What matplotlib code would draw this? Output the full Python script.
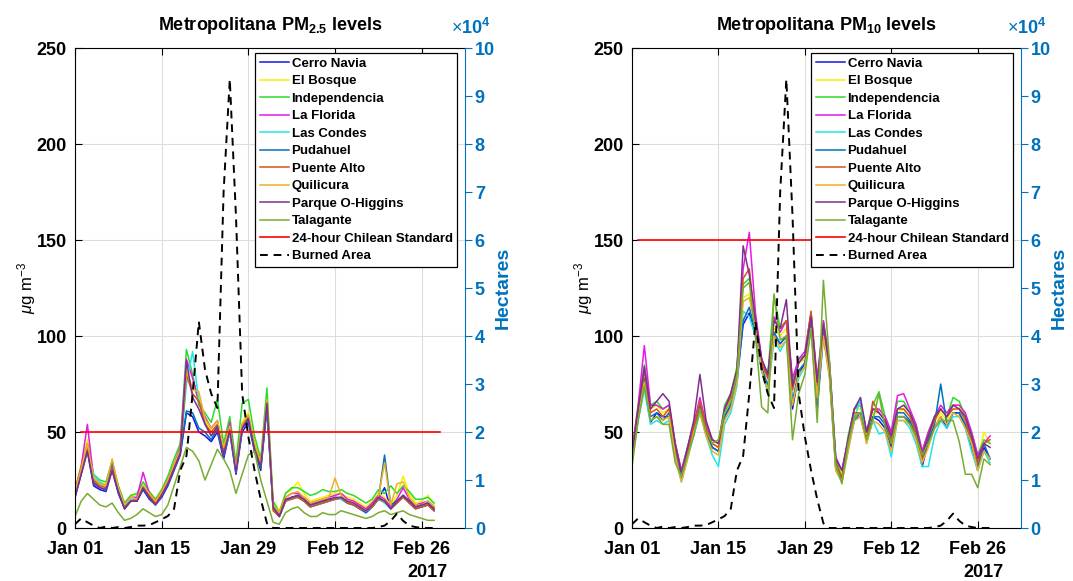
import matplotlib
matplotlib.use('Agg')
import matplotlib.pyplot as plt
import matplotlib.dates as mdates
from matplotlib.ticker import FuncFormatter, MultipleLocator
from datetime import date, timedelta

plt.rcParams['font.family'] = ['Liberation Sans', 'DejaVu Sans']
plt.rcParams['mathtext.fontset'] = 'custom'
plt.rcParams['mathtext.rm'] = 'Liberation Sans'
plt.rcParams['mathtext.it'] = 'Liberation Sans:italic'
plt.rcParams['mathtext.bf'] = 'Liberation Sans:bold'

# daily values, 1 Jan 2017 .. 28 Feb 2017
start = date(2017, 1, 1)
days = [start + timedelta(days=i) for i in range(59)]

stations = ['Cerro Navia', 'El Bosque', 'Independencia', 'La Florida', 'Las Condes',
            'Pudahuel', 'Puente Alto', 'Quilicura', 'Parque O-Higgins', 'Talagante']
colors = ['#1515E8', '#F2F200', '#2BDB2B', '#E619E6', '#22E6E6',
          '#0072BD', '#D95319', '#EDB120', '#7E2F8E', '#77AC30']

# PM2.5 (ug/m3)
pm25_cerro_navia = [16,28,40,22,20,19,30,18,10,14,14,20,15,12,16,22,30,38,60,58,50,48,45,50,36,50,28,50,55,40,30,62,10,6,14,16,16,14,11,12,13,14,15,15,13,12,10,8,11,15,21,10,13,17,13,10,11,12,9]
pm25_el_bosque = [20,33,46,27,24,23,34,22,13,17,17,24,19,15,20,26,34,42,78,74,68,56,50,54,42,54,32,55,60,45,34,68,14,9,18,20,24,18,14,15,16,17,18,18,16,15,13,11,14,18,16,12,17,27,18,13,14,17,12]
pm25_independencia = [20,32,44,28,25,24,35,22,13,17,18,24,19,15,20,27,36,44,93,80,64,60,55,67,44,58,34,65,67,48,36,73,14,8,18,21,21,19,17,18,20,19,19,20,18,17,15,13,15,20,18,22,18,22,19,15,15,16,13]
pm25_la_florida = [19,32,54,26,23,22,33,21,12,16,16,29,18,14,19,25,33,42,88,78,66,58,52,56,40,55,30,54,58,42,32,65,11,7,16,18,18,16,13,14,15,16,17,18,15,14,12,10,13,17,15,11,15,21,15,12,13,14,11]
pm25_las_condes = [17,30,40,28,24,22,30,21,12,15,15,21,16,12,17,23,31,40,75,92,66,55,48,52,38,50,29,52,57,42,32,64,10,6,14,16,16,14,11,12,13,14,15,15,13,12,10,8,11,15,13,10,13,16,13,11,12,14,11]
pm25_pudahuel = [17,29,41,24,21,20,35,19,11,14,14,21,16,13,17,23,31,39,61,60,52,50,46,52,38,52,29,52,56,40,31,64,11,6,14,16,17,14,12,13,14,15,15,16,13,12,10,8,11,15,38,12,14,17,14,11,12,13,10]
pm25_puente_alto = [18,30,43,25,22,21,31,20,10,14,15,22,17,13,18,24,31,39,80,70,66,54,50,54,40,52,31,53,58,43,33,66,9,6,14,15,16,14,11,12,13,14,15,16,13,12,10,9,11,15,14,10,13,16,13,10,11,12,9]
pm25_quilicura = [19,31,44,26,23,22,36,21,12,16,15,22,18,14,19,25,33,41,82,72,71,57,52,56,42,53,31,54,59,44,34,67,12,8,16,18,19,16,13,14,15,16,26,17,14,13,11,9,12,16,34,12,23,24,16,12,12,14,11]
pm25_parque_ohiggins = [16,28,40,23,21,20,30,19,10,14,14,21,16,12,17,23,31,39,87,68,62,54,48,53,38,51,29,52,57,41,32,65,11,6,15,16,17,15,12,13,14,15,16,16,14,13,11,9,12,16,14,10,14,17,14,11,12,13,10]
pm25_talagante = [6,14,18,15,12,11,13,8,4,5,7,10,8,6,7,12,22,32,42,40,35,25,33,41,36,30,18,28,38,40,25,14,3,2,8,10,11,8,6,6,8,7,7,9,8,7,6,5,6,8,9,7,8,9,7,6,5,4,4]

# PM10 (ug/m3)
pm10_cerro_navia = [36,58,75,55,60,58,58,38,26,38,50,62,50,42,40,58,64,76,106,112,100,82,72,100,96,100,62,80,86,106,62,100,80,32,25,42,56,58,46,58,56,52,42,58,58,55,48,32,45,52,58,52,60,60,52,42,30,42,36]
pm10_el_bosque = [40,62,80,62,64,60,62,42,28,40,54,66,52,44,42,62,68,80,120,122,106,85,78,104,100,104,72,86,88,110,74,104,84,34,28,46,62,62,48,60,60,56,46,60,62,58,50,38,48,55,60,56,64,64,56,48,36,50,44]
pm10_independencia = [40,64,85,64,66,62,64,44,30,42,54,66,54,46,44,64,70,84,127,130,110,88,80,121,104,108,75,88,90,112,76,108,86,36,26,48,62,64,50,64,71,58,50,66,66,60,54,40,50,58,62,58,68,66,58,50,38,46,44]
pm10_la_florida = [40,64,95,64,64,62,64,44,30,42,54,68,54,46,44,62,70,82,135,154,112,88,80,110,102,108,78,88,92,112,78,108,86,37,30,46,62,66,50,62,62,58,50,69,70,62,54,40,50,58,64,60,64,64,60,50,38,44,48]
pm10_las_condes = [34,56,72,54,56,54,56,36,24,36,48,60,48,38,32,54,60,74,113,110,100,82,70,98,92,98,66,78,84,104,66,100,78,30,24,40,56,68,44,56,49,50,37,56,56,52,44,32,32,48,56,52,58,58,52,40,30,40,34]
pm10_pudahuel = [36,58,78,58,60,56,60,40,26,38,50,64,50,42,40,58,64,78,108,115,102,84,74,102,96,100,66,82,86,106,66,102,80,32,26,44,56,60,46,58,58,54,44,60,60,56,48,34,46,54,75,54,60,60,54,44,32,44,36]
pm10_puente_alto = [38,62,82,60,62,58,62,42,28,40,52,66,52,44,42,62,68,82,130,135,106,86,78,108,104,108,72,86,90,113,74,106,82,34,26,44,60,60,46,66,60,56,46,62,62,58,50,36,48,56,62,58,62,62,56,46,34,44,46]
pm10_quilicura = [36,58,76,56,58,56,58,38,24,36,50,60,48,40,38,56,62,76,118,120,104,82,72,100,94,98,64,80,84,104,68,100,78,30,24,40,56,58,44,56,54,50,40,56,56,54,46,34,42,52,58,54,60,58,52,44,30,40,36]
pm10_parque_ohiggins = [38,62,84,62,66,70,66,44,28,42,56,80,56,46,44,62,70,82,147,132,108,88,80,108,104,119,74,86,90,110,76,106,84,36,30,46,62,68,50,62,60,56,48,62,64,60,52,38,48,58,62,58,64,62,58,48,36,44,42]
pm10_talagante = [32,56,74,56,58,54,54,34,27,38,48,62,50,44,46,60,66,80,125,128,100,63,60,122,98,100,46,70,80,104,55,129,86,33,23,44,58,60,46,56,70,52,44,58,58,54,48,38,44,52,56,56,56,45,28,28,21,36,33]

# burned area (hectares)
burned_area = [800,2000,1200,500,0,300,0,200,0,200,500,500,600,1200,1800,2500,4000,12000,15000,28000,
               43000,33000,28000,25000,70000,93500,65000,28000,19000,12000,6000,1000,0,0,0,0,0,0,0,0,
               0,0,0,0,0,0,0,0,0,200,500,1500,3000,1500,500,200,0,0,0]

standard_pm25 = 50
standard_pm10 = 150
standard_span = [start + timedelta(days=1), start + timedelta(days=59)]

pm25_all = [pm25_cerro_navia, pm25_el_bosque, pm25_independencia, pm25_la_florida, pm25_las_condes,
            pm25_pudahuel, pm25_puente_alto, pm25_quilicura, pm25_parque_ohiggins, pm25_talagante]
pm10_all = [pm10_cerro_navia, pm10_el_bosque, pm10_independencia, pm10_la_florida, pm10_las_condes,
            pm10_pudahuel, pm10_puente_alto, pm10_quilicura, pm10_parque_ohiggins, pm10_talagante]

blue = '#0072BD'
fig = plt.figure(figsize=(10.73, 5.81), dpi=100)


def panel(rect, series, std, title):
    ax = fig.add_axes(rect)
    for vals, name, c in zip(series, stations, colors):
        ax.plot(days, vals, color=c, lw=1.1, label=name)
    ax.plot(standard_span, [std, std], color='#FF0000', lw=1.2, label='24-hour Chilean Standard')
    ax.set_ylim(0, 250)
    ax.set_xlim(start, start + timedelta(days=63))
    ax.yaxis.set_major_locator(MultipleLocator(50))
    ax.set_xticks([start + timedelta(days=14 * k) for k in range(5)])
    ax.xaxis.set_major_formatter(mdates.DateFormatter('%b %d'))
    ax.grid(True, color='#dcdcdc', lw=0.8)
    ax.set_axisbelow(True)
    ax.tick_params(direction='in', top=True, length=5, width=0.8, labelsize=13, pad=6)
    ax.tick_params(axis='x', pad=9)
    for lab in ax.get_xticklabels() + ax.get_yticklabels():
        lab.set_fontweight('bold')
    ax.spines['right'].set_visible(False)
    ax.set_ylabel(r'$\mu$g m$^{-3}$', fontsize=12, labelpad=-1)
    ax.set_title(title, fontsize=13, fontweight='bold', pad=13)
    ax.text(start + timedelta(days=57.5), -0.092, '2017', transform=ax.get_xaxis_transform(),
            ha='center', va='center', fontsize=13, fontweight='bold')

    ax2 = ax.twinx()
    ax2.plot(days, burned_area, color='black', lw=1.4, ls=(0, (4, 3)), label='Burned Area')
    ax2.set_ylim(0, 100000)
    ax2.set_xlim(start, start + timedelta(days=63))
    ax2.yaxis.set_major_locator(MultipleLocator(10000))
    ax2.yaxis.set_major_formatter(FuncFormatter(lambda v, p: '%g' % (v / 10000)))
    ax2.tick_params(axis='y', direction='out', length=5, width=0.8, colors=blue,
                    labelsize=13, pad=2)
    for lab in ax2.get_yticklabels():
        lab.set_fontweight('bold')
    for s in ['left', 'top', 'bottom']:
        ax2.spines[s].set_visible(False)
    ax2.spines['right'].set_color(blue)
    ax2.set_ylabel('Hectares', color=blue, fontsize=14, fontweight='bold', labelpad=0)
    ax2.text(0.965, 1.022, r'$\times\mathbf{10^{4}}$', transform=ax2.transAxes, ha='left',
             va='bottom', color=blue, fontsize=13, fontweight='bold')

    h1, l1 = ax.get_legend_handles_labels()
    h2, l2 = ax2.get_legend_handles_labels()
    leg = ax2.legend(h1 + h2, l1 + l2, loc='upper right', bbox_to_anchor=(0.98, 0.99),
                     borderaxespad=0, prop={'weight': 'bold', 'size': 9.5}, fancybox=False,
                     framealpha=1, edgecolor='black', labelspacing=0.4, handlelength=2.2,
                     handletextpad=0.2, borderpad=0.35)
    leg.get_frame().set_linewidth(0.9)
    return ax


panel([0.0699, 0.0912, 0.3635, 0.826], pm25_all, standard_pm25,
      r'Metropolitana PM$_{\mathbf{2.5}}$ levels')
panel([0.589, 0.0912, 0.3625, 0.826], pm10_all, standard_pm10,
      r'Metropolitana PM$_{\mathbf{10}}$ levels')

fig.savefig('out.png', dpi=100)
